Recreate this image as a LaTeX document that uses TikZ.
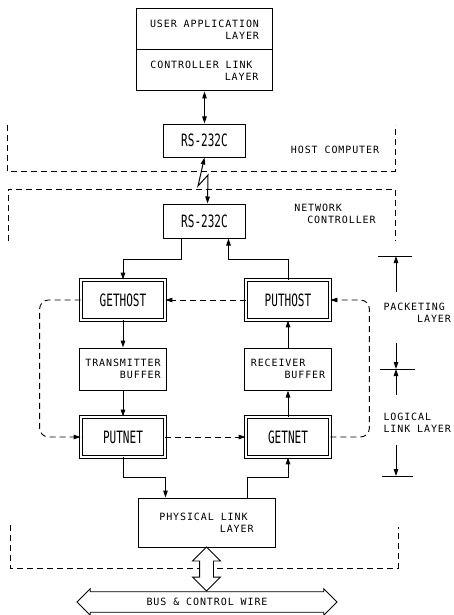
\documentclass[tikz,border=0pt]{standalone}
\usepackage{fontspec}
\newfontfamily\labelfont[LetterSpace=9]{DejaVu Sans Mono}
\newfontfamily\namefont[FakeStretch=0.65]{DejaVu Sans Mono}
\usetikzlibrary{arrows.meta, shapes.arrows}

\begin{document}
\begin{tikzpicture}[
        x=1pt, y=-1pt,
        >={Triangle[length=7pt, width=4.5pt]},
        every node/.style={font=\labelfont\fontsize{10}{12}\selectfont},
        box/.style={draw, line width=1pt, minimum width=87pt, minimum height=42pt, inner sep=2pt, align=right},
        port/.style={box, minimum width=82pt, minimum height=34pt, font=\namefont\fontsize{17}{18}\selectfont},
        routine/.style={box, double, double distance=1.6pt, line width=0.8pt, minimum width=84pt, minimum height=40pt, font=\namefont\fontsize{17}{18}\selectfont},
        flow/.style={->, line width=1pt},
        data/.style={->, line width=0.9pt, dash pattern=on 6pt off 4pt},
        frame/.style={line width=0.8pt, dash pattern=on 6pt off 4pt},
        dim/.style={line width=0.8pt},
        hollow/.style={double arrow, draw, fill=white, line width=0.9pt}
    ]
    \useasboundingbox (0,0) rectangle (453,615);

    %% ---- Dashed frames: host computer, network controller ----
    \draw[frame] (7,125) -- (7,171) -- (395,171) -- (395,125);
    \draw[frame] (8,241) -- (8,189) -- (395,189) -- (395,241);
    \draw[frame] (10,525) -- (10,568) -- (398,568) -- (398,527);

    %% ---- Host side ----
    \node[box, minimum width=136pt, minimum height=41pt] (userapp) at (204.5,29.5) {USER APPLICATION\\LAYER};
    \node[box, minimum width=136pt, minimum height=41pt] (ctrllink) at (204.5,70.5) {CONTROLLER LINK\phantom{X}\\LAYER};
    \node[port, minimum height=33pt] (hostrs) at (204.5,140.5) {RS-232C};
    \node (hostlbl) at (335,150) {HOST COMPUTER};

    %% ---- Network controller ----
    \node[port] (netrs) at (204.5,221) {RS-232C};
    \node[align=right] (netlbl) at (335,213.5) {NETWORK\phantom{XXXXX}\\CONTROLLER};

    \node[routine] (gethost) at (123,300) {GETHOST};
    \node[routine] (puthost) at (288,300) {PUTHOST};
    \node[box] (txbuf) at (123,369) {TRANSMITTER\\BUFFER};
    \node[box] (rxbuf) at (288,369) {RECEIVER\phantom{XXX}\\BUFFER};
    \node[routine] (putnet) at (123,437) {PUTNET};
    \node[routine] (getnet) at (288,437) {GETNET};
    \node[box, minimum width=137pt, minimum height=49pt] (phys) at (206.5,522.5) {PHYSICAL LINK\phantom{X}\\LAYER};

    %% ---- Bus ----
    \node[hollow, rotate=90, minimum height=44pt, inner xsep=0pt, inner ysep=6.5pt, double arrow head extend=7pt] (tap) at (206.5,569) {};
    \node[hollow, minimum height=260pt, inner ysep=6pt, double arrow head extend=3pt] (bus) at (207,602) {BUS \& CONTROL WIRE};

    %% ---- Solid connectors ----
    \draw[<->, line width=1pt] (ctrllink.south) -- (hostrs.north);
    \draw[<->, line width=1pt] (hostrs.south) -- (198,186) -- (208,175) -- ([xshift=3pt]netrs.north);
    \draw[flow] ([xshift=-23pt]netrs.south) -- ++(0,21) -| (gethost.north);
    \draw[flow] (puthost.north) -- ++(0,-20) -| ([xshift=24pt]netrs.south);
    \draw[flow] (gethost.south) -- (txbuf.north);
    \draw[flow] (txbuf.south) -- (putnet.north);
    \draw[flow] (rxbuf.north) -- (puthost.south);
    \draw[flow] (getnet.north) -- (rxbuf.south);
    \draw[flow] (putnet.south) -- ++(0,20) -| ([xshift=-41pt]phys.north);
    \draw[flow] ([xshift=41pt]phys.north) -- ++(0,-20) -| (getnet.south);

    %% ---- Dashed connectors ----
    \draw[data] (puthost.west) -- (gethost.east);
    \draw[data] (putnet.east) -- (getnet.west);
    \draw[data, rounded corners=9pt] (gethost.west) -- ++(-41,0) |- (putnet.west);
    \draw[data, rounded corners=9pt] (getnet.east) -- ++(39,0) |- (puthost.east);

    %% ---- Layer markers ----
    \draw[dim] (378,256) -- (412,256);
    \draw[dim] (380,369) -- (415,369);
    \draw[dim] (382,476) -- (413,476);
    \draw[dim, ->] (396,292) -- (396,256);
    \draw[dim, ->] (396,343) -- (396,369);
    \draw[dim, ->] (396,395) -- (396,369);
    \draw[dim, ->] (396,445) -- (396,476);
    \node[align=right, anchor=west] (packlbl) at (380,313) {PACKETING\phantom{X}\\LAYER};
    \node[align=left, anchor=west] (linklbl) at (380,422.5) {LOGICAL\\LINK LAYER};

\end{tikzpicture}
\end{document}
